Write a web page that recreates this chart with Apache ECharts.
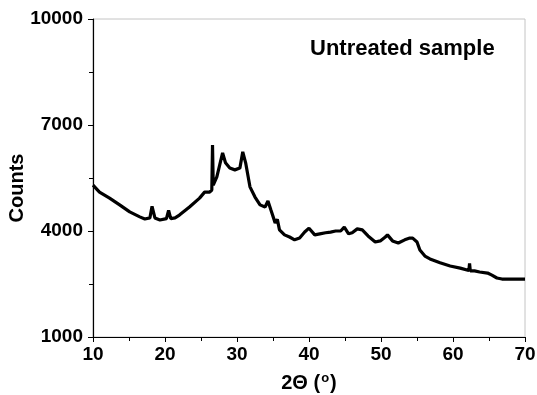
<!DOCTYPE html>
<html>
<head>
<meta charset="utf-8">
<script src="https://cdn.jsdelivr.net/npm/echarts@6/dist/echarts.min.js"></script>
<style>
  html, body { margin: 0; padding: 0; background: #fff; }
  #chart { width: 537px; height: 395px; }
</style>
</head>
<body>
<div id="chart"></div>
<script>
// 2-theta positions (deg) and intensity (counts)
const twoTheta = [
  10, 10.9, 12.3, 13.7, 15.1, 16.5, 17.2, 17.9, 18.2, 18.6, 19.3, 20.2, 20.5, 20.8,
  21.4, 22.0, 23.4, 24.8, 25.5, 26.2, 26.5, 26.6, 26.7, 26.8, 27.2, 27.6, 28.0, 28.4,
  29.0, 29.7, 30.4, 30.8, 31.2, 31.8, 32.5, 33.2, 33.9, 34.3, 34.7, 35.3, 35.6, 35.9,
  36.6, 37.3, 38.0, 38.7, 39.4, 40.0, 40.8, 41.5, 42.3, 43.0, 43.7, 44.4, 44.9, 45.5,
  46.0, 46.7, 47.4, 48.2, 49.2, 49.9, 50.6, 50.9, 51.6, 52.4, 53.3, 54.0, 54.4, 55.0,
  55.4, 56.1, 56.8, 58.2, 59.6, 61.0, 62.2, 62.3, 62.4, 63.0, 63.7, 64.8, 65.0, 65.4,
  66.1, 66.8, 67.9, 69.0, 70
];
const counts = [
  5300, 5100, 4930, 4740, 4540, 4400, 4340, 4370, 4700, 4370, 4310, 4350, 4580, 4350,
  4370, 4450, 4680, 4930, 5100, 5100, 5160, 6430, 5300, 5250, 5530, 5870, 6210, 5930,
  5780, 5730, 5780, 6240, 5930, 5250, 4960, 4740, 4680, 4850, 4600, 4230, 4330, 4030,
  3890, 3830, 3750, 3800, 3970, 4080, 3890, 3920, 3950, 3970, 4000, 4000, 4110, 3920,
  3950, 4060, 4030, 3860, 3690, 3720, 3830, 3890, 3720, 3660, 3750, 3800, 3800, 3690,
  3460, 3290, 3210, 3100, 3010, 2950, 2880, 3080, 2870, 2870, 2840, 2810, 2850, 2750,
  2670, 2640, 2640, 2640, 2640
];
const yTicks = [1000, 4000, 7000, 10000];
const xTicks = [10, 20, 30, 40, 50, 60, 70];

const chart = echarts.init(document.getElementById("chart"));
const font = "'Liberation Sans', Arial, sans-serif";

chart.setOption({
  animation: false,
  title: {
    text: "Untreated sample",
    left: 310,
    top: 38,
    padding: 0,
    textStyle: { fontFamily: font, fontSize: 22, fontWeight: "bold", color: "#000" },
  },
  grid: {
    left: 93,
    right: 12,
    top: 19,
    bottom: 58,
    outerBoundsMode: "none",
    containLabel: false,
    show: true,
    borderColor: "#c4c4c4",
    borderWidth: 1,
  },
  xAxis: {
    type: "value",
    min: xTicks[0],
    max: xTicks[xTicks.length - 1],
    interval: 10,
    name: "2Θ ({sup|o})",
    nameLocation: "middle",
    nameGap: 35,
    nameMoveOverlap: false,
    nameTextStyle: {
      fontFamily: font,
      fontSize: 20,
      fontWeight: "bold",
      color: "#000",
      rich: {
        sup: { fontFamily: font, fontSize: 13, fontWeight: "bold", verticalAlign: "top", padding: [0, 1, 10, 1] },
      },
    },
    axisLine: { lineStyle: { color: "#000", width: 1.2 } },
    axisTick: { length: 5, lineStyle: { color: "#000" } },
    minorTick: { show: true, splitNumber: 2, length: 4, lineStyle: { color: "#000" } },
    splitLine: { show: false },
    axisLabel: { margin: 8, fontFamily: font, fontSize: 19, fontWeight: "bold", color: "#000" },
  },
  yAxis: {
    type: "value",
    min: yTicks[0],
    max: yTicks[yTicks.length - 1],
    interval: 3000,
    name: "Counts",
    nameLocation: "middle",
    nameGap: 66,
    nameMoveOverlap: false,
    nameTextStyle: { fontFamily: font, fontSize: 20, fontWeight: "bold", color: "#000", padding: [0, 0, 0, -20] },
    axisLine: { lineStyle: { color: "#000", width: 1.2 } },
    axisTick: { length: 5, lineStyle: { color: "#000" } },
    minorTick: { show: true, splitNumber: 2, length: 4, lineStyle: { color: "#000" } },
    splitLine: { show: false },
    axisLabel: {
      margin: 10,
      fontFamily: font,
      fontSize: 19,
      fontWeight: "bold",
      color: "#000",
      formatter: (v) => String(v),
    },
  },
  series: [
    {
      type: "line",
      data: twoTheta.map((t, i) => [t, counts[i]]),
      showSymbol: false,
      lineStyle: { color: "#000", width: 3.2 },
    },
  ],
});
</script>
</body>
</html>
